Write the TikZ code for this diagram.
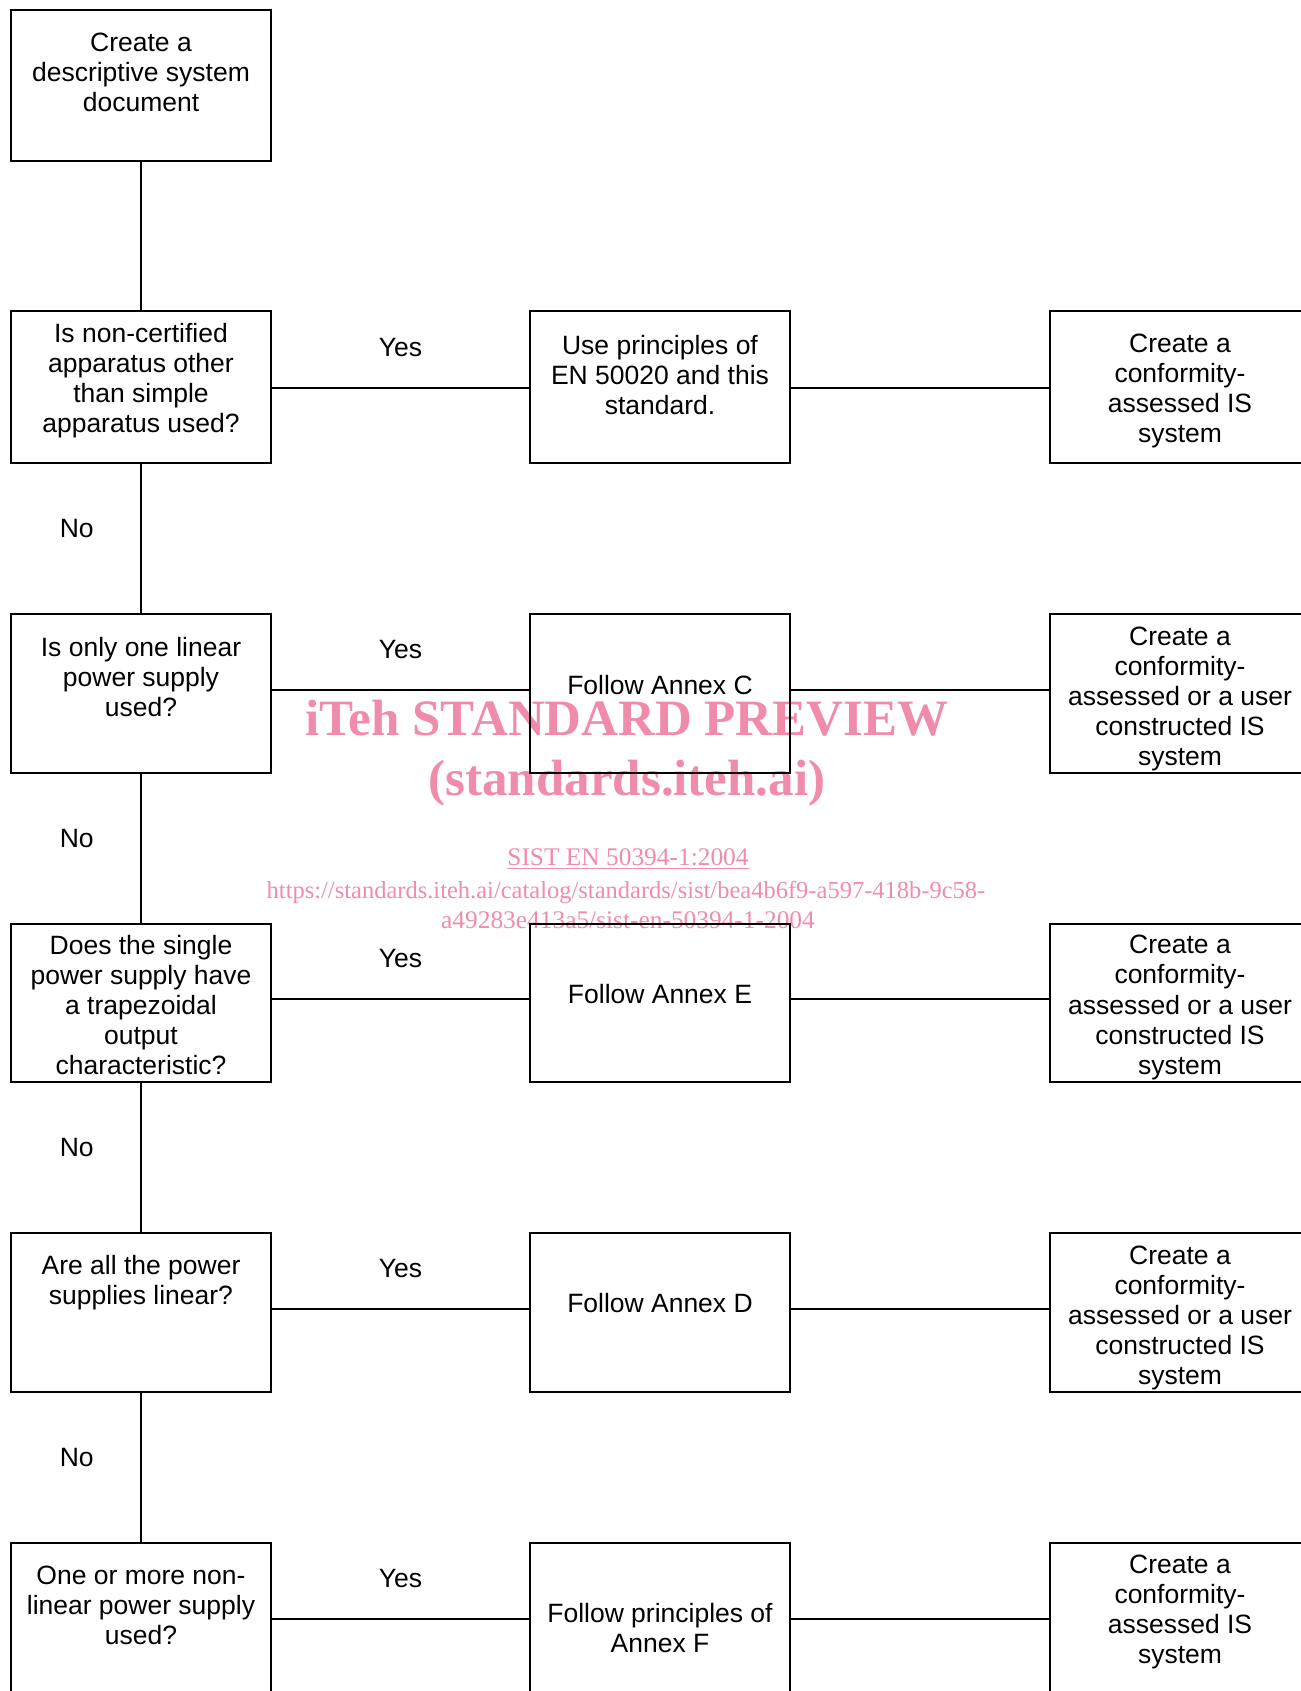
\documentclass[tikz,border=0pt]{standalone}
\usepackage{fontspec}
\setmainfont{Liberation Sans}
\newfontfamily\stampfont{Liberation Serif}
\usetikzlibrary{positioning}
\definecolor{stamppink}{RGB}{240,140,170}

\begin{document}
\begin{tikzpicture}[x=0.453pt,y=-0.453pt,line width=0.9pt,
    chartbox/.style={draw,minimum width=117.8pt,minimum height=72pt,inner sep=0pt},
    boxtext/.style={align=center,inner sep=0pt,font=\fontsize{12}{13.6}\selectfont},
    answer/.style={inner sep=0pt,font=\fontsize{12}{13.6}\selectfont},
    stamp/.style={anchor=base,text=stamppink,inner sep=0pt},
    bigstamp/.style={stamp,font=\stampfont\bfseries\fontsize{23.1}{27}\selectfont},
    smallstamp/.style={stamp,font=\stampfont\fontsize{11.5}{13.5}\selectfont}]
  \useasboundingbox (0,0) rectangle (1301,1691);
  \clip (0,0) rectangle (1301,1691);

  % watermark (behind the chart)
  \node[bigstamp] (wm1) at (627,735) {iTeh STANDARD PREVIEW};
  \node[bigstamp] (wm2) at (627,795) {(standards.iteh.ai)};
  \node[smallstamp] (wm3) at (628,865) {\underline{SIST EN 50394-1:2004}};
  \node[smallstamp,font=\stampfont\fontsize{11.1}{13.5}\selectfont] (wm4) at (626,898) {https://standards.iteh.ai/catalog/standards/sist/bea4b6f9-a597-418b-9c58-};
  \node[smallstamp] (wm5) at (628,928) {a49283e413a5/sist-en-50394-1-2004};

  % questions
  \node[chartbox,minimum height=68.4pt] (q1) at (141,85.5) {};
  \node[chartbox,minimum height=68.9pt] (q2) at (141,387) {};
  \node[chartbox] (q3) at (141,693.5) {};
  \node[chartbox,minimum height=71.6pt] (q4) at (141,1003) {};
  \node[chartbox] (q5) at (141,1312.5) {};
  \node[chartbox] (q6) at (141,1622.5) {};

  % what to follow
  \node[chartbox,minimum height=68.9pt] (a2) at (660,387) {};
  \node[chartbox] (a3) at (660,693.5) {};
  \node[chartbox,minimum height=71.6pt] (a4) at (660,1003) {};
  \node[chartbox] (a5) at (660,1312.5) {};
  \node[chartbox] (a6) at (660,1622.5) {};

  % resulting system
  \node[chartbox,minimum height=68.9pt] (r2) at (1180,387) {};
  \node[chartbox] (r3) at (1180,693.5) {};
  \node[chartbox,minimum height=71.6pt] (r4) at (1180,1003) {};
  \node[chartbox] (r5) at (1180,1312.5) {};
  \node[chartbox] (r6) at (1180,1622.5) {};

  % box texts, hung from the top edge
  \node[boxtext,below=10.6pt of q1.north] (q1t) {Create a\\descriptive system\\document};
  \node[boxtext,below=5.7pt of q2.north] (q2t) {Is non-certified\\apparatus other\\than simple\\apparatus used?};
  \node[boxtext,below=10.6pt of q3.north] (q3t) {Is only one linear\\power supply\\used?};
  \node[boxtext,below=5.2pt of q4.north] (q4t) {Does the single\\power supply have\\a trapezoidal\\output\\characteristic?};
  \node[boxtext,below=10.2pt of q5.north] (q5t) {Are all the power\\supplies linear?};
  \node[boxtext,below=10.2pt of q6.north] (q6t) {One or more non-\\linear power supply\\used?};

  \node[boxtext,below=11.1pt of a2.north] (a2t) {Use principles of\\EN 50020 and this\\standard.};
  \node[boxtext,below=27.9pt of a3.north] (a3t) {Follow Annex C};
  \node[boxtext,below=27.4pt of a4.north] (a4t) {Follow Annex E};
  \node[boxtext,below=27.4pt of a5.north] (a5t) {Follow Annex D};
  \node[boxtext,below=27.4pt of a6.north] (a6t) {Follow principles of\\Annex F};

  \node[boxtext,below=10.6pt of r2.north] (r2t) {Create a\\conformity-\\assessed IS\\system};
  \node[boxtext,below=5.7pt of r3.north] (r3t) {Create a\\conformity-\\assessed or a user\\constructed IS\\system};
  \node[boxtext,below=5.2pt of r4.north] (r4t) {Create a\\conformity-\\assessed or a user\\constructed IS\\system};
  \node[boxtext,below=5.7pt of r5.north] (r5t) {Create a\\conformity-\\assessed or a user\\constructed IS\\system};
  \node[boxtext,below=5.2pt of r6.north] (r6t) {Create a\\conformity-\\assessed IS\\system};

  % connectors
  \draw (q1) -- (q2);
  \foreach \a/\b in {q2/q3,q3/q4,q4/q5,q5/q6}
    \draw (\a) -- node[answer,left=21pt,yshift=4.5pt] {No} (\b);
  \foreach \n/\dy in {2/-0.45pt,3/1.6pt,4/1.8pt,5/1.6pt,6/1.6pt}
    \draw ([yshift=\dy]q\n.east) -- node[answer,above=13.8pt] {Yes} ([yshift=\dy]a\n.west)
          ([yshift=\dy]a\n.east) -- ([yshift=\dy]r\n.west);
\end{tikzpicture}
\end{document}
